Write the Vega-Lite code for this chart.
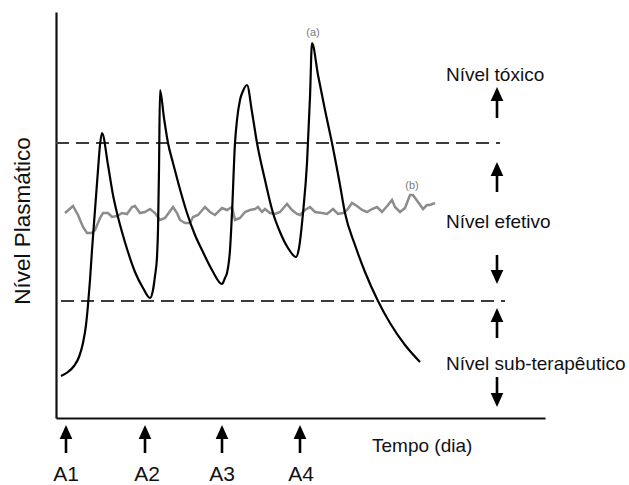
{
  "$schema": "https://vega.github.io/schema/vega-lite/v6.json",
  "width": 489,
  "height": 406,
  "autosize": {"type": "none"},
  "padding": {"left": 56, "top": 12, "right": 84, "bottom": 67},
  "background": "white",
  "config": {
    "view": {"stroke": null},
    "axis": {"labels": false, "ticks": false, "grid": false, "domainColor": "#111", "domainWidth": 2.2},
    "text": {"font": "Liberation Sans"}
  },
  "datasets": {
    "curveA": [
      {"t":5,"nivel":42},{"t":12,"nivel":46},{"t":18,"nivel":52},{"t":23,"nivel":61},{"t":27,"nivel":75},{"t":30,"nivel":93},{"t":32,"nivel":113},{"t":34,"nivel":138},{"t":36,"nivel":168},{"t":39,"nivel":208},{"t":42,"nivel":248},{"t":44,"nivel":273},{"t":46,"nivel":285},
      {"t":52,"nivel":253},{"t":57,"nivel":223},{"t":61,"nivel":205},{"t":66,"nivel":186},{"t":72,"nivel":166},{"t":79,"nivel":146},{"t":87,"nivel":130},{"t":94,"nivel":120},
      {"t":97,"nivel":128},{"t":99,"nivel":142},{"t":101,"nivel":161},{"t":102,"nivel":188},{"t":103,"nivel":248},{"t":104,"nivel":328},
      {"t":108,"nivel":300},{"t":112,"nivel":275},{"t":117,"nivel":255},{"t":122,"nivel":236},{"t":131,"nivel":205},{"t":139,"nivel":183},{"t":146,"nivel":168},{"t":156,"nivel":148},{"t":166,"nivel":134},
      {"t":169,"nivel":140},{"t":171,"nivel":145},{"t":174,"nivel":168},{"t":176,"nivel":205},{"t":179,"nivel":275},{"t":181,"nivel":298},{"t":184,"nivel":318},{"t":187,"nivel":327},{"t":191,"nivel":333},
      {"t":196,"nivel":306},{"t":201,"nivel":275},{"t":209,"nivel":238},{"t":217,"nivel":205},{"t":224,"nivel":186},{"t":232,"nivel":170},{"t":240,"nivel":161},
      {"t":243,"nivel":170},{"t":247,"nivel":205},{"t":251,"nivel":255},{"t":254,"nivel":321},{"t":256,"nivel":375},
      {"t":262,"nivel":343},{"t":269,"nivel":308},{"t":276,"nivel":275},{"t":284,"nivel":233},{"t":289,"nivel":205},{"t":299,"nivel":173},{"t":309,"nivel":146},{"t":322,"nivel":117},{"t":334,"nivel":95},{"t":349,"nivel":73},{"t":364,"nivel":56}
    ],
    "curveB": [
      {"t":9,"nivel":205},{"t":17,"nivel":212},{"t":22,"nivel":203},{"t":27,"nivel":191},{"t":31,"nivel":185},{"t":36,"nivel":185},{"t":39,"nivel":188},{"t":44,"nivel":200},{"t":47,"nivel":205},{"t":52,"nivel":205},{"t":56,"nivel":201},{"t":61,"nivel":202},{"t":66,"nivel":205},{"t":71,"nivel":204},{"t":76,"nivel":211},{"t":79,"nivel":212},{"t":84,"nivel":205},{"t":89,"nivel":206},{"t":94,"nivel":209},{"t":99,"nivel":205},{"t":104,"nivel":198},{"t":109,"nivel":200},{"t":117,"nivel":211},{"t":121,"nivel":205},{"t":124,"nivel":198},{"t":129,"nivel":195},{"t":134,"nivel":195},{"t":137,"nivel":201},{"t":142,"nivel":203},{"t":149,"nivel":211},{"t":154,"nivel":206},{"t":159,"nivel":203},{"t":166,"nivel":210},{"t":171,"nivel":208},{"t":176,"nivel":211},{"t":179,"nivel":198},{"t":184,"nivel":200},{"t":189,"nivel":206},{"t":194,"nivel":208},{"t":199,"nivel":209},{"t":202,"nivel":211},{"t":206,"nivel":206},{"t":209,"nivel":209},{"t":214,"nivel":205},{"t":219,"nivel":204},{"t":224,"nivel":206},{"t":231,"nivel":214},{"t":236,"nivel":208},{"t":241,"nivel":204},{"t":244,"nivel":203},{"t":249,"nivel":208},{"t":254,"nivel":211},{"t":259,"nivel":206},{"t":266,"nivel":205},{"t":271,"nivel":204},{"t":277,"nivel":209},{"t":282,"nivel":204},{"t":287,"nivel":205},{"t":291,"nivel":208},{"t":296,"nivel":215},{"t":301,"nivel":212},{"t":306,"nivel":208},{"t":311,"nivel":206},{"t":316,"nivel":209},{"t":321,"nivel":211},{"t":326,"nivel":206},{"t":332,"nivel":213},{"t":336,"nivel":218},{"t":339,"nivel":211},{"t":344,"nivel":206},{"t":349,"nivel":210},{"t":354,"nivel":223},{"t":357,"nivel":223},{"t":362,"nivel":216},{"t":367,"nivel":209},{"t":371,"nivel":213},{"t":374,"nivel":213},{"t":379,"nivel":215}
    ],
    "limits": [
      {"nome":"tóxico","t":0,"t2":444,"nivel":275},
      {"nome":"sub-terapêutico","t":5,"t2":449,"nivel":117}
    ],
    "shafts": [
      {"t":10,"y1":-18,"y2":-35},{"t":89,"y1":-18,"y2":-35},{"t":166,"y1":-18,"y2":-35},{"t":244,"y1":-18,"y2":-35},
      {"t":441,"y1":320,"y2":300},{"t":441,"y1":245,"y2":226},{"t":441,"y1":163,"y2":145},{"t":441,"y1":99,"y2":80},{"t":441,"y1":41,"y2":22}
    ],
    "heads": [
      {"t":10,"nivel":-14,"dir":"up"},{"t":89,"nivel":-14,"dir":"up"},{"t":166,"nivel":-14,"dir":"up"},{"t":244,"nivel":-14,"dir":"up"},
      {"t":441,"nivel":324,"dir":"up"},{"t":441,"nivel":249,"dir":"up"},{"t":441,"nivel":141,"dir":"down"},{"t":441,"nivel":103,"dir":"up"},{"t":441,"nivel":18,"dir":"down"}
    ],
    "doses": [
      {"t":10,"nivel":-63,"label":"A1"},{"t":91,"nivel":-63,"label":"A2"},{"t":166,"nivel":-63,"label":"A3"},{"t":245,"nivel":-63,"label":"A4"}
    ],
    "levels": [
      {"t":390,"nivel":337,"label":"Nível tóxico"},
      {"t":390,"nivel":190,"label":"Nível efetivo"},
      {"t":390,"nivel":48,"label":"Nível sub-terapêutico"},
      {"t":316,"nivel":-34,"label":"Tempo (dia)"}
    ],
    "series": [
      {"t":257,"nivel":385,"label":"(a)"},
      {"t":356,"nivel":232,"label":"(b)"}
    ],
    "ytitle": [
      {"t":-26,"nivel":197,"label":"Nível Plasmático"}
    ]
  },
  "layer": [
    {
      "data": {"name": "limits"},
      "mark": {"type": "rule", "color": "#3c3c3c", "strokeWidth": 2, "strokeDash": [13, 7]},
      "encoding": {
        "x": {"field": "t", "type": "quantitative", "title": null, "scale": {"domain": [0, 489], "nice": false, "zero": false}},
        "x2": {"field": "t2"},
        "y": {"field": "nivel", "type": "quantitative", "title": null, "scale": {"domain": [0, 406], "nice": false, "zero": false}}
      }
    },
    {
      "data": {"name": "curveB"},
      "mark": {"type": "line", "color": "#8c8c8c", "strokeWidth": 2.5, "strokeJoin": "miter"},
      "encoding": {
        "x": {"field": "t", "type": "quantitative", "title": null},
        "y": {"field": "nivel", "type": "quantitative", "title": null}
      }
    },
    {
      "data": {"name": "curveA"},
      "mark": {"type": "line", "color": "#000000", "strokeWidth": 2.2, "interpolate": "monotone"},
      "encoding": {
        "x": {"field": "t", "type": "quantitative", "title": null},
        "y": {"field": "nivel", "type": "quantitative", "title": null}
      }
    },
    {
      "data": {"name": "shafts"},
      "mark": {"type": "rule", "color": "#000000", "strokeWidth": 2.6},
      "encoding": {
        "x": {"field": "t", "type": "quantitative", "title": null},
        "y": {"field": "y1", "type": "quantitative", "title": null},
        "y2": {"field": "y2"}
      }
    },
    {
      "data": {"name": "heads"},
      "transform": [{"filter": "datum.dir === 'up'"}],
      "mark": {"type": "point", "shape": "M0,-1L0.9,1L-0.9,1Z", "size": 196, "filled": true, "color": "#000000", "opacity": 1, "strokeWidth": 0},
      "encoding": {
        "x": {"field": "t", "type": "quantitative", "title": null},
        "y": {"field": "nivel", "type": "quantitative", "title": null}
      }
    },
    {
      "data": {"name": "heads"},
      "transform": [{"filter": "datum.dir === 'down'"}],
      "mark": {"type": "point", "shape": "M0,1L0.9,-1L-0.9,-1Z", "size": 196, "filled": true, "color": "#000000", "opacity": 1, "strokeWidth": 0},
      "encoding": {
        "x": {"field": "t", "type": "quantitative", "title": null},
        "y": {"field": "nivel", "type": "quantitative", "title": null}
      }
    },
    {
      "data": {"name": "doses"},
      "mark": {"type": "text", "fontSize": 21, "align": "center", "baseline": "alphabetic", "color": "#111"},
      "encoding": {
        "x": {"field": "t", "type": "quantitative", "title": null},
        "y": {"field": "nivel", "type": "quantitative", "title": null},
        "text": {"field": "label"}
      }
    },
    {
      "data": {"name": "levels"},
      "mark": {"type": "text", "fontSize": 19, "align": "left", "baseline": "alphabetic", "color": "#111"},
      "encoding": {
        "x": {"field": "t", "type": "quantitative", "title": null},
        "y": {"field": "nivel", "type": "quantitative", "title": null},
        "text": {"field": "label"}
      }
    },
    {
      "data": {"name": "series"},
      "mark": {"type": "text", "fontSize": 11, "align": "center", "baseline": "middle", "color": "#7a7a7a"},
      "encoding": {
        "x": {"field": "t", "type": "quantitative", "title": null},
        "y": {"field": "nivel", "type": "quantitative", "title": null},
        "text": {"field": "label"}
      }
    },
    {
      "data": {"name": "ytitle"},
      "mark": {"type": "text", "fontSize": 22.5, "angle": 270, "align": "center", "baseline": "alphabetic", "color": "#111"},
      "encoding": {
        "x": {"field": "t", "type": "quantitative", "title": null},
        "y": {"field": "nivel", "type": "quantitative", "title": null},
        "text": {"field": "label"}
      }
    }
  ]
}
